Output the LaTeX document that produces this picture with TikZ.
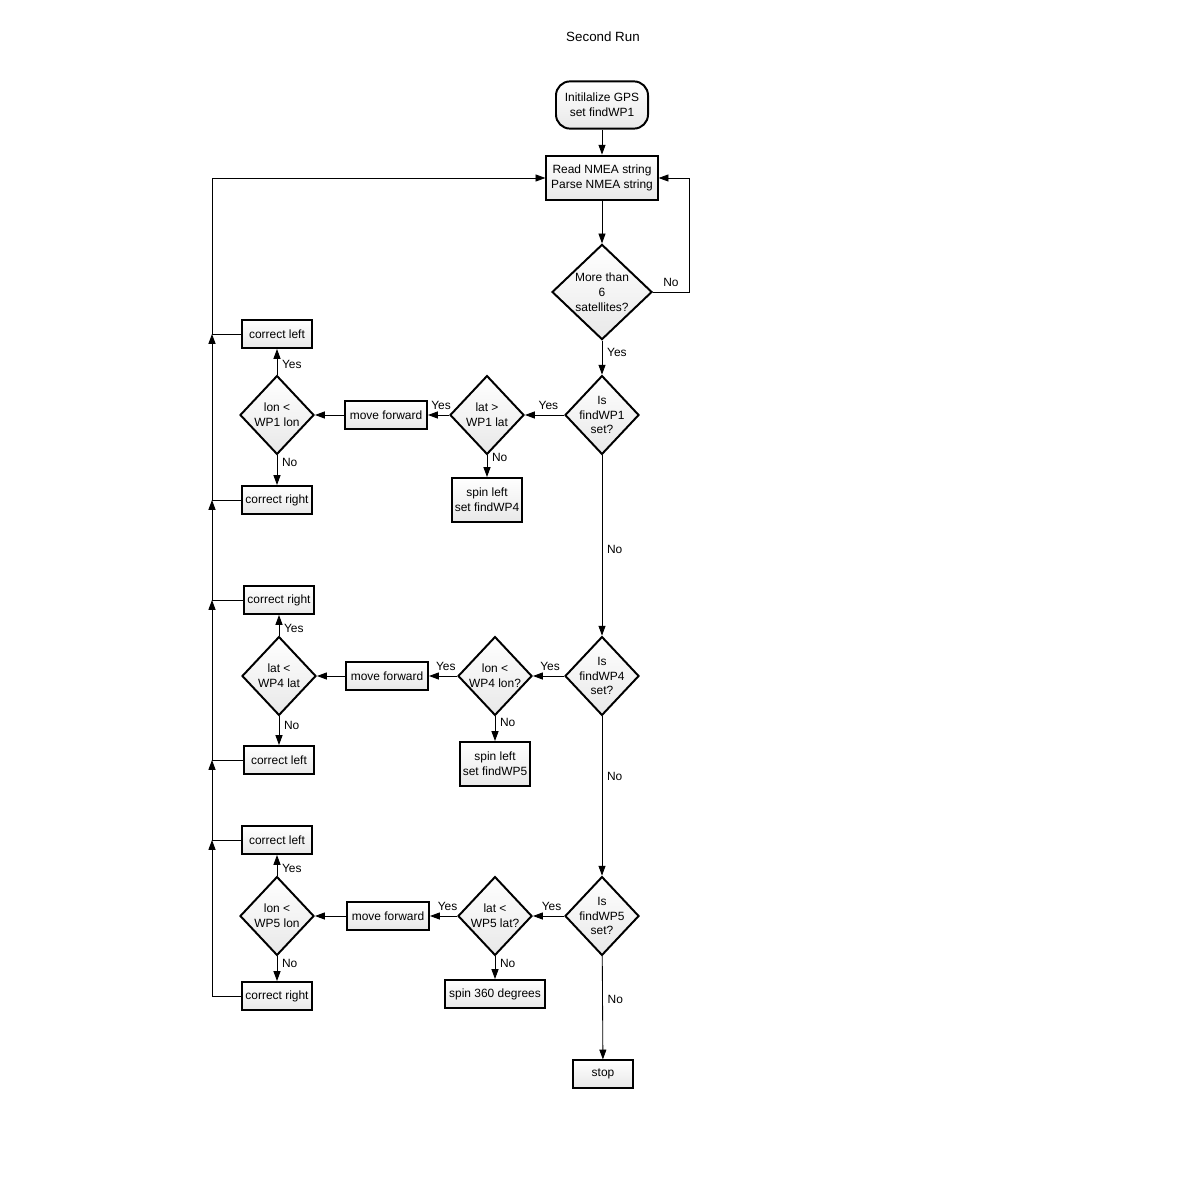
\documentclass[tikz,border=0pt]{standalone}
\usepackage{fontspec}
\setmainfont{Liberation Sans}
\usetikzlibrary{shapes.geometric,arrows.meta}

\begin{document}
\begin{tikzpicture}[x=0.025cm,y=-0.025cm,
        every node/.style={font=\fontsize{8.5}{10.5}\selectfont},
        box/.style={draw, line width=1.4pt, top color=white, bottom color=gray!18, minimum width=1.75cm, minimum height=0.7cm, inner sep=1pt, align=center},
        test/.style={draw, diamond, line width=1.4pt, top color=white, bottom color=gray!18, minimum width=1.85cm, minimum height=1.97cm, inner sep=0pt},
        arr/.style={-{Triangle[length=7pt,width=5pt]}, line width=.6pt},
        line/.style={line width=.6pt}]
                \useasboundingbox (0,0) rectangle (1200,1200);
                \node[font=\fontsize{9.5}{11}\selectfont] (title) at (603,37) {Second Run};

                \node[box, rounded corners=10pt, minimum width=2.3cm, minimum height=1.18cm] (init) at (602,105) {Initilalize GPS\\set findWP1};
                \node[box, minimum width=2.78cm, minimum height=1.12cm] (read) at (602,178) {Read NMEA string\\Parse NMEA string};
                \node[test, minimum width=2.5cm, minimum height=2.38cm, label={[align=center]center:More than\\6\\satellites?}] (sat) at (602,292) {};

                \node[test, label={[align=center]center:Is\\findWP1\\set?}] (wp1) at (602,415) {};
                \node[test, label={[align=center]center:lat >\\WP1 lat}] (lat1) at (487,415) {};
                \node[box, minimum width=2.05cm, minimum height=0.68cm] (mf1) at (386,415) {move forward};
                \node[test, label={[align=center]center:lon <\\WP1 lon}] (lon1) at (277,415) {};
                \node[box] (cl1) at (277,334) {correct left};
                \node[box] (cr1) at (277,500) {correct right};
                \node[box, minimum height=1.1cm] (spin1) at (487,500) {spin left\\set findWP4};

                \node[test, label={[align=center]center:Is\\findWP4\\set?}] (wp4) at (602,676) {};
                \node[test, label={[align=center]center:lon <\\WP4 lon?}] (lon4) at (495,676) {};
                \node[box, minimum width=2.05cm, minimum height=0.68cm] (mf2) at (387,676) {move forward};
                \node[test, label={[align=center]center:lat <\\WP4 lat}] (lat4) at (279,676) {};
                \node[box] (cr2) at (279,600) {correct right};
                \node[box] (cl2) at (279,760) {correct left};
                \node[box, minimum height=1.1cm] (spin2) at (495,764) {spin left\\set findWP5};

                \node[test, label={[align=center]center:Is\\findWP5\\set?}] (wp5) at (602,916) {};
                \node[test, label={[align=center]center:lat <\\WP5 lat?}] (lat5) at (495,916) {};
                \node[box, minimum width=2.05cm, minimum height=0.68cm] (mf3) at (388,916) {move forward};
                \node[test, label={[align=center]center:lon <\\WP5 lon}] (lon5) at (277,916) {};
                \node[box] (cl3) at (277,840) {correct left};
                \node[box] (cr3) at (277,996) {correct right};
                \node[box, minimum width=2.52cm] (spin3) at (495,994) {spin 360 degrees};
                \node[box, minimum width=1.5cm, minimum height=0.68cm] (stop) at (603,1074) {stop};

                \draw[arr] (init) -- (read);
                \draw[arr] (read) -- (sat);
                \draw[arr] (sat.east) -- node[above] {No} ++(36,0) |- (read.east);
                \draw[arr] (sat) -- node[right, pos=.35] {Yes} (wp1);

                \draw[arr] (wp1) -- node[above, pos=.4] {Yes} (lat1);
                \draw[arr] (lat1) -- node[above, pos=.38] {Yes} (mf1);
                \draw[arr] (mf1) -- (lon1);
                \draw[arr] (lon1) -- node[right, pos=.4] {Yes} (cl1);
                \draw[arr] (lon1) -- node[right, pos=.25] {No} (cr1);
                \draw[arr] (lat1) -- node[right, pos=.1] {No} (spin1);
                \draw[arr] (wp1) -- node[right, pos=.52] {No} (wp4);

                \draw[arr] (wp4) -- node[above, pos=.45] {Yes} (lon4);
                \draw[arr] (lon4) -- node[above, pos=.4] {Yes} (mf2);
                \draw[arr] (mf2) -- (lat4);
                \draw[arr] (lat4) -- node[right, pos=.35] {Yes} (cr2);
                \draw[arr] (lat4) -- node[right, pos=.3] {No} (cl2);
                \draw[arr] (lon4) -- node[right, pos=.25] {No} (spin2);
                \draw[arr] (wp4) -- node[right, pos=.38] {No} (wp5);

                \draw[arr] (wp5) -- node[above, pos=.4] {Yes} (lat5);
                \draw[arr] (lat5) -- node[above, pos=.35] {Yes} (mf3);
                \draw[arr] (mf3) -- (lon5);
                \draw[arr] (lon5) -- node[right, pos=.35] {Yes} (cl3);
                \draw[arr] (lon5) -- node[right, pos=.3] {No} (cr3);
                \draw[arr] (lat5) -- node[right, pos=.3] {No} (spin3);
                \draw[arr] (wp5) -- node[right, pos=.42] {No} (stop);

                \coordinate (back) at (212,178);
                \foreach \n in {cl1,cr1,cr2,cl2,cl3,cr3}
                    \draw[line] (\n.west) -- (\n.west -| back);
                \foreach \a/\b in {cr3/cl3,cl3/cl2,cl2/cr2,cr2/cr1,cr1/cl1}
                    \draw[arr] (\a.west -| back) -- (\b.west -| back);
                \draw[arr] (cl1.west -| back) -- (back) -- (read.west);
            \end{tikzpicture}
\end{document}
